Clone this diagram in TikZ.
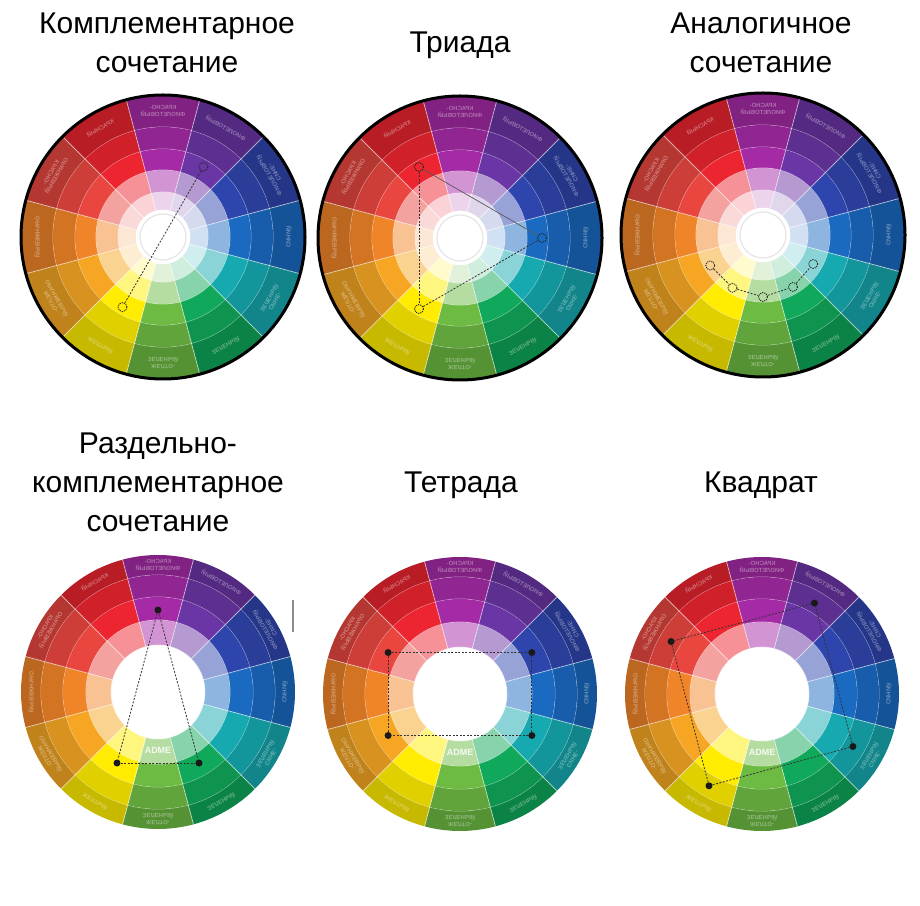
\documentclass[tikz,border=0pt]{standalone}
\usepackage{fontspec}
\setmainfont{Liberation Sans}
\usetikzlibrary{positioning}
% base hues, clockwise from the top
\definecolor{krf}{HTML}{A52AA6}
\definecolor{fio}{HTML}{6A35A5}
\definecolor{sfi}{HTML}{2F45AE}
\definecolor{sin}{HTML}{1A6AC2}
\definecolor{szl}{HTML}{16AAB0}
\definecolor{zel}{HTML}{10A85A}
\definecolor{zhz}{HTML}{6DBB43}
\definecolor{zhe}{HTML}{FFEC00}
\definecolor{zho}{HTML}{F6A623}
\definecolor{ora}{HTML}{F08428}
\definecolor{kro}{HTML}{E8463F}
\definecolor{kra}{HTML}{EC2530}
\newcommand{\krug}[3]{% #1 rings ri/ro/tone, #2 inner, #3 outer radius
	\foreach \ri/\ro/\ton in {#1}{
		\foreach \i/\hue in {0/krf,1/fio,2/sfi,3/sin,4/szl,5/zel,6/zhz,7/zhe,8/zho,9/ora,10/kro,11/kra}{
			\pgfmathsetmacro{\a}{90-30*\i}
			\fill[\hue!\ton] (\a-15:\ro) arc[start angle=\a-15, end angle=\a+15, radius=\ro]
				-- (\a+15:\ri) arc[start angle=\a+15, end angle=\a-15, radius=\ri] -- cycle;
		}
		\draw[razdel] (0,0) circle (\ri);
	}
	\foreach \k in {0,...,11}{\draw[razdel] (75+30*\k:#2) -- (75+30*\k:#3);}
}
\newcommand{\podpisi}[2]{% #1 wheel, #2 radius
	\begin{scope}[xscale=-1]
		\foreach \i/\txt in {0/{КРАСНО-\\ФИОЛЕТОВЫЙ},1/{ФИОЛЕТОВЫЙ},2/{СИНЕ-\\ФИОЛЕТОВЫЙ},3/{СИНИЙ},
			4/{СИНЕ-\\ЗЕЛЕНЫЙ},5/{ЗЕЛЕНЫЙ},6/{ЖЕЛТО-\\ЗЕЛЕНЫЙ},7/{ЖЕЛТЫЙ},
			8/{ЖЕЛТО-\\ОРАНЖЕВЫЙ},9/{ОРАНЖЕВЫЙ},10/{КРАСНО-\\ОРАНЖЕВЫЙ},11/{КРАСНЫЙ}}{
			\node[nadpis, rotate=30*\i, transform shape] (p#1-\i) at (90+30*\i:#2) {\txt};
		}
	\end{scope}
}
\tikzstyle{zagolovok} = [font=\fontsize{30}{39}\selectfont, align=center, inner sep=0pt, anchor=north]
\tikzstyle{razdel} = [white, opacity=.55, line width=.8pt]
\tikzstyle{nadpis} = [white, opacity=.35, font=\fontsize{6}{6.5}\selectfont\bfseries, align=center, inner sep=0pt]
\tikzstyle{kolco} = [circle, draw=black!85, dash pattern=on 1.2pt off 1pt, line width=.9pt, minimum size=9pt, inner sep=0pt]
\tikzstyle{tochka} = [circle, fill=black!90, minimum size=7pt, inner sep=0pt]
\tikzstyle{shtrih} = [black!80, line width=.8pt, dash pattern=on 2pt off 1.5pt]
\tikzstyle{adme} = [white, opacity=.85, font=\fontsize{9}{9}\selectfont\bfseries, inner sep=0pt]
\begin{document}
\begin{tikzpicture}[x=1pt, y=1pt]
	\fill[white] (0,0) rectangle (920,905);
	\useasboundingbox (0,0) rectangle (920,905);
	\coordinate (w1) at (163,668);
	\coordinate (w2) at (460,667);
	\coordinate (w3) at (763,670);
	\coordinate (w4) at (158,213);
	\coordinate (w5) at (460,211);
	\coordinate (w6) at (762,211);
	% titles
	\node[zagolovok] (t1) at (167,892) {Комплементарное\\сочетание};
	\node[zagolovok] (t2) at (460,873) {Триада};
	\node[zagolovok] (t3) at (761,892) {Аналогичное\\сочетание};
	\node[zagolovok] (t4) at (158,472) {Раздельно-\\комплементарное\\сочетание};
	\node[zagolovok] (t5) at (461,433) {Тетрада};
	\node[zagolovok] (t6) at (761,433) {Квадрат};
	% complementary
	\begin{scope}[shift={(w1)}]
		\krug{110/142/78!black, 88/110/88!black, 67/88/100, 45/67/50!white, 27/45/20!white}{27}{142}
		\podpisi{1}{126}
		\draw[line width=3pt] (0,0) circle (142);
		\fill[white] (0,0) circle (27);
		\draw[black!10, line width=1.2pt] (0,0) circle (23);
		\node[kolco] (k1a) at (60:81) {};
		\node[kolco] (k1b) at (-120:81) {};
	\end{scope}
	\draw[shtrih] (k1a) -- (k1b);
	% triad
	\begin{scope}[shift={(w2)}]
		\krug{110/142/78!black, 88/110/88!black, 67/88/100, 45/67/50!white, 27/45/20!white}{27}{142}
		\podpisi{2}{126}
		\draw[line width=3pt] (0,0) circle (142);
		\fill[white] (0,0) circle (27);
		\draw[black!10, line width=1.2pt] (0,0) circle (23);
		\node[kolco] (k2a) at (120:82) {};
		\node[kolco] (k2b) at (0:82) {};
		\node[kolco] (k2c) at (-120:82) {};
	\end{scope}
	\draw[black!65, line width=.7pt] (k2a) -- (k2b);
	\draw[shtrih] (k2a) -- (k2c);
	\draw[shtrih] (k2c) -- (k2b);
	% analogous
	\begin{scope}[shift={(w3)}]
		\krug{110/142/78!black, 88/110/88!black, 67/88/100, 45/67/50!white, 27/45/20!white}{27}{142}
		\podpisi{3}{126}
		\draw[line width=3pt] (0,0) circle (142);
		\fill[white] (0,0) circle (27);
		\draw[black!10, line width=1.2pt] (0,0) circle (23);
		\node[kolco] (k3a) at (-150:61) {};
		\node[kolco] (k3b) at (-120:61) {};
		\node[kolco] (k3c) at (-90:62) {};
		\node[kolco] (k3d) at (-60:60) {};
		\node[kolco] (k3e) at (-30:58) {};
	\end{scope}
	\draw[shtrih] (k3a) -- (k3b) -- (k3c) -- (k3d) -- (k3e);
	% split complementary
	\begin{scope}[shift={(w4)}]
		\krug{117/137/78!black, 95/117/88!black, 72/95/100, 47/72/50!white}{47}{137}
		\podpisi{4}{127}
		\node[adme] (a4) at (0,-58) {ADME};
		\node[tochka] (k4a) at (90:82) {};
		\node[tochka] (k4b) at (-120:82) {};
		\node[tochka] (k4c) at (-60:82) {};
	\end{scope}
	\draw[shtrih] (k4a) -- (k4b);
	\draw[shtrih] (k4a) -- (k4c);
	\draw[shtrih] (k4b) -- (k4c);
	\draw[black!45, line width=1.3pt] (293,305) -- (293,273);
	% tetrad
	\begin{scope}[shift={(w5)}]
		\krug{117/137/78!black, 95/117/88!black, 72/95/100, 47/72/50!white}{47}{137}
		\podpisi{5}{127}
		\node[adme] (a5) at (0,-58) {ADME};
		\node[tochka] (k5a) at (150:83) {};
		\node[tochka] (k5b) at (30:83) {};
		\node[tochka] (k5c) at (-150:83) {};
		\node[tochka] (k5d) at (-30:83) {};
	\end{scope}
	\draw[shtrih] (k5a) -- (k5b) -- (k5d) -- (k5c) -- (k5a);
	% square
	\begin{scope}[shift={(w6)}]
		\krug{117/137/78!black, 95/117/88!black, 72/95/100, 47/72/50!white}{47}{137}
		\podpisi{6}{127}
		\node[adme] (a6) at (0,-58) {ADME};
		\node[tochka] (k6a) at (60:105) {};
		\node[tochka] (k6b) at (150:105) {};
		\node[tochka] (k6c) at (-120:106) {};
		\node[tochka] (k6d) at (-30:105) {};
	\end{scope}
	\draw[shtrih] (k6a) -- (k6b) -- (k6c) -- (k6d) -- (k6a);
\end{tikzpicture}
\end{document}
